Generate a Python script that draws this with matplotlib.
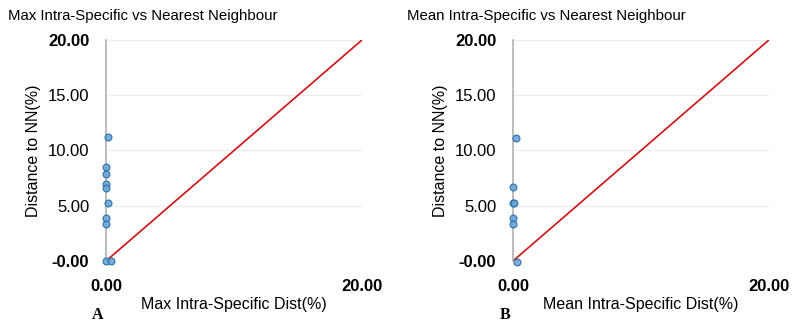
import numpy as np
import matplotlib.pyplot as plt

plt.rcParams['font.family'] = ['Liberation Sans', 'DejaVu Sans']

# panel A: max intra-specific distance vs distance to nearest neighbour
max_x = [0.18, 0.0, 0.0, 0.0, 0.0, 0.18, 0.0, 0.0, 0.0, 0.37]
max_y = [11.2, 8.5, 7.9, 6.95, 6.65, 5.22, 3.92, 3.35, 0.0, 0.0]

# panel B: mean intra-specific distance vs distance to nearest neighbour
mean_x = [0.2, 0.0, 0.0, 0.06, 0.0, 0.0, 0.3]
mean_y = [11.15, 6.67, 5.22, 5.22, 3.9, 3.32, -0.1]

yticks = [0, 5, 10, 15, 20]
ytick_labels = ['-0.00', '5.00', '10.00', '15.00', '20.00']
xticks = [0, 20]
xtick_labels = ['0.00', '20.00']

panels = [
    ('Max Intra-Specific vs Nearest Neighbour', 'Max Intra-Specific Dist(%)', 'A', max_x, max_y, 0.1327, 0.0),
    ('Mean Intra-Specific vs Nearest Neighbour', 'Mean Intra-Specific Dist(%)', 'B', mean_x, mean_y, 0.642, 0.5),
]

fig = plt.figure(figsize=(7.99, 3.26), dpi=100)

for title, xlabel, letter, xs, ys, left, off in panels:
    ax = fig.add_axes([left, 0.1994, 0.3204, 0.678])
    ax.set_xlim(0, 20)
    ax.set_ylim(0, 20)
    for y in yticks[1:]:
        ax.axhline(y, color='#ececec', lw=0.8, zorder=0)
    ax.plot([0, 20], [0, 20], color='#d01010', lw=1.2, zorder=2)
    ax.scatter(xs, ys, s=24, facecolor='#6aa6db', edgecolor='#2f6fa8',
               linewidth=0.9, alpha=0.9, zorder=3, clip_on=False)
    for s in ['top', 'right', 'bottom']:
        ax.spines[s].set_visible(False)
    ax.spines['left'].set_color('#b0b0b0')
    ax.spines['left'].set_linewidth(1.2)
    ax.set_yticks(yticks)
    ax.set_yticklabels(ytick_labels, fontsize=12)
    ax.set_xticks(xticks)
    ax.set_xticklabels(xtick_labels, fontsize=12, fontweight='bold')
    ax.tick_params(axis='y', length=0, pad=12)
    ax.tick_params(axis='x', length=0, pad=13)
    yl = ax.get_yticklabels()
    yl[0].set_fontweight('bold')
    yl[-1].set_fontweight('bold')
    ax.set_ylabel('Distance to NN(%)', fontsize=11.5)
    ax.yaxis.set_label_coords(-0.255, 0.5)
    ax.set_xlabel(xlabel, fontsize=11.5)
    ax.xaxis.set_label_coords(0.5, -0.165)
    fig.text(off + 0.01, 0.952, title, fontsize=10.8, va='center', ha='left')
    fig.text(left - 0.01, 0.035, letter, fontsize=11.5, fontweight='bold',
             family='Liberation Serif', va='center', ha='center')

fig.savefig('out.png', dpi=100)
